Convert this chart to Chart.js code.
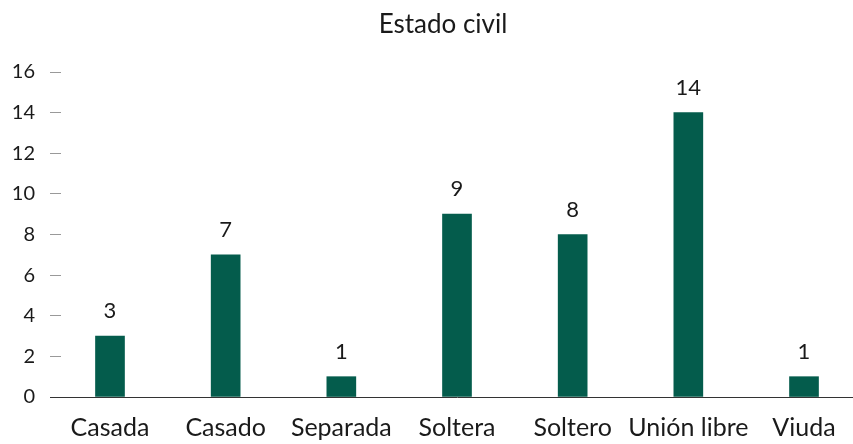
<!DOCTYPE html>
<html>
<head>
<meta charset="utf-8">
<script src="https://cdn.jsdelivr.net/npm/chart.js@4.4.1/dist/chart.umd.min.js"></script>
<style>
  html, body { margin: 0; padding: 0; background: #fff; overflow: hidden; }
  #wrap { width: 853px; height: 444px; }
</style>
</head>
<body>
<div id="wrap"><canvas id="chart" width="853" height="444"></canvas></div>
<script>
const title = 'Estado civil';
const categories = ['Casada', 'Casado', 'Separada', 'Soltera', 'Soltero', 'Unión libre', 'Viuda'];
const counts = [3, 7, 1, 9, 8, 14, 1];
const yTicks = [0, 2, 4, 6, 8, 10, 12, 14, 16];

const FONT = 'Lato, "Open Sans", sans-serif';
const INK = '#1a1a1a';
const BAR = '#045c4c';

// value labels above each bar + the title
const labelsPlugin = {
  id: 'labels',
  afterDatasetsDraw(chart) {
    const ctx = chart.ctx;
    const meta = chart.getDatasetMeta(0);
    ctx.save();
    ctx.fillStyle = INK;
    ctx.font = '22px ' + FONT;
    ctx.textAlign = 'center';
    ctx.textBaseline = 'alphabetic';
    meta.data.forEach((bar, i) => {
      ctx.fillText(String(counts[i]), bar.x, bar.y - 18);
    });
    ctx.font = '26px ' + FONT;
    ctx.fillText(title, 443, 33);
    ctx.restore();
  }
};

new Chart(document.getElementById('chart'), {
  type: 'bar',
  data: {
    datasets: [{
      data: categories.map((c, i) => ({ x: i, y: counts[i] })),
      backgroundColor: BAR,
      barThickness: 29
    }]
  },
  options: {
    responsive: false,
    animation: false,
    layout: { padding: { top: 72, right: 0, left: 0, bottom: 0 } },
    plugins: { legend: { display: false }, tooltip: { enabled: false }, title: { display: false } },
    scales: {
      x: {
        type: 'linear',
        offset: false,
        min: -0.4236,
        max: 6.4236,
        afterBuildTicks: s => { s.ticks = categories.map((c, i) => ({ value: i })); },
        afterFit: s => { s.height = 47; s.paddingLeft = 0; s.paddingRight = 0; },
        grid: { display: false },
        border: { display: true, color: '#333', width: 1 },
        ticks: {
          color: INK,
          font: { family: FONT, size: 25 },
          padding: 8,
          maxRotation: 0,
          autoSkip: false,
          callback: v => categories[v]
        }
      },
      y: {
        min: 0,
        max: 16,
        afterBuildTicks: s => { s.ticks = yTicks.map(v => ({ value: v })); },
        afterFit: s => { s.width = 61; s.paddingTop = 0; s.paddingBottom = 0; },
        border: { display: false },
        grid: {
          drawOnChartArea: false,
          drawTicks: true,
          tickLength: 11,
          tickWidth: 1,
          tickColor: c => c.tick && c.tick.value === 0 ? '#333' : '#999'
        },
        ticks: {
          color: INK,
          font: { family: FONT, size: 20 },
          padding: 15
        }
      }
    }
  },
  plugins: [labelsPlugin]
});
</script>
</body>
</html>
